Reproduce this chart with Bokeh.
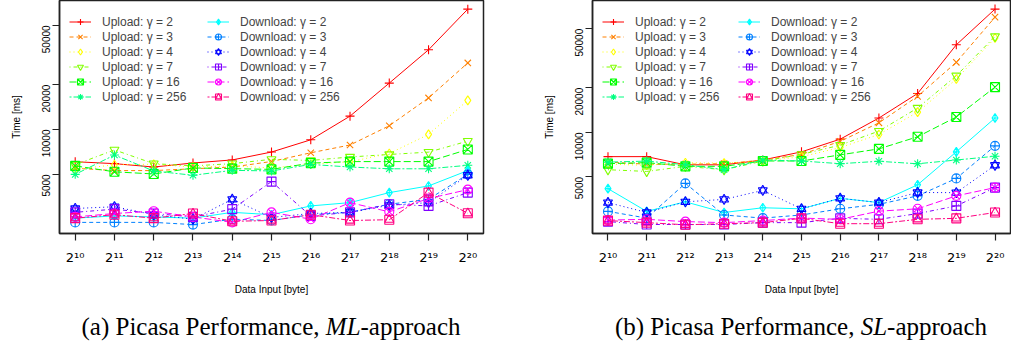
import numpy as np
from bokeh.plotting import figure
from bokeh.models import (Range1d, FixedTicker, NumeralTickFormatter, Legend,
                          LegendItem, Div)
from bokeh.layouts import row, column
from bokeh.embed import file_html
from bokeh.resources import INLINE

# ---------------- data ----------------
exponents = list(range(10, 21))
x_tick_labels = ["2¹⁰", "2¹¹", "2¹²", "2¹³", "2¹⁴", "2¹⁵",
                 "2¹⁶", "2¹⁷", "2¹⁸", "2¹⁹", "2²⁰"]
y_ticks = [5000, 10000, 20000, 50000]
gammas = [2, 3, 4, 7, 16, 256]

# (a) ML-approach, time in ms
up2_ml = [6080, 5900, 5600, 5960, 6250, 7060, 8530, 12300, 20500, 34300, 64300]
up3_ml = [5500, 5300, 5300, 5450, 5600, 6100, 6980, 7870, 10600, 16300, 28000]
up4_ml = [5400, 5800, 5850, 5600, 5700, 5520, 5850, 6080, 6900, 9270, 15700]
up7_ml = [5800, 7300, 5900, 5700, 5900, 6310, 6200, 6540, 6800, 7050, 8360]
up16_ml = [5700, 5200, 5030, 5520, 5460, 5400, 5950, 6090, 6090, 6090, 7350]
up256_ml = [5000, 6740, 5270, 4930, 5320, 5270, 5830, 5600, 5450, 5450, 5750]
dn2_ml = [2540, 2630, 2590, 2540, 2780, 2680, 3070, 3230, 3770, 4180, 5300]
dn3_ml = [2380, 2380, 2380, 2300, 2500, 2450, 2680, 2780, 3150, 3400, 5000]
dn4_ml = [2950, 3030, 2680, 2500, 3400, 2570, 2730, 2780, 3100, 3230, 4930]
dn7_ml = [2780, 2920, 2730, 2590, 2920, 4470, 2630, 2780, 3150, 3070, 3770]
dn16_ml = [2590, 2730, 2830, 2590, 2380, 2780, 2500, 3230, 2800, 3440, 3950]
dn256_ml = [2540, 2680, 2540, 2730, 2420, 2450, 2680, 2450, 2480, 3770, 2740]

# (b) SL-approach, time in ms
up2_sl = [6860, 6860, 6040, 6040, 6510, 7390, 9000, 12500, 18300, 39000, 67900]
up3_sl = [6300, 6100, 6100, 6150, 6500, 7100, 8700, 11600, 17500, 29700, 59900]
up4_sl = [6100, 6000, 6240, 6200, 6400, 6850, 7900, 9680, 13700, 22900, 43300]
up7_sl = [5600, 5450, 5900, 5600, 6400, 7100, 8200, 10200, 14600, 24100, 44400]
up16_sl = [6150, 6250, 5900, 5900, 6410, 6410, 7050, 7740, 9340, 12700, 20200]
up256_sl = [6300, 6400, 6050, 5600, 6510, 6410, 6150, 6380, 6140, 6510, 6900]
dn2_sl = [4170, 2930, 3400, 2880, 3100, 3050, 3590, 3360, 4430, 7390, 12500]
dn3_sl = [2930, 2640, 4530, 2770, 2640, 2770, 3050, 3270, 3730, 4890, 8110]
dn4_sl = [3360, 2880, 3400, 3530, 4060, 3050, 3590, 3360, 3930, 3920, 6000]
dn7_sl = [2500, 2390, 2390, 2390, 2460, 2460, 2630, 2590, 2830, 3190, 4240]
dn16_sl = [2560, 2590, 2500, 2460, 2540, 2640, 2590, 2940, 3050, 3730, 4240]
dn256_sl = [2540, 2460, 2380, 2420, 2460, 2630, 2420, 2420, 2590, 2630, 2880]

upload_ml = [up2_ml, up3_ml, up4_ml, up7_ml, up16_ml, up256_ml]
download_ml = [dn2_ml, dn3_ml, dn4_ml, dn7_ml, dn16_ml, dn256_ml]
upload_sl = [up2_sl, up3_sl, up4_sl, up7_sl, up16_sl, up256_sl]
download_sl = [dn2_sl, dn3_sl, dn4_sl, dn7_sl, dn16_sl, dn256_sl]

# ---------------- styles ----------------
up_colors = ["#FF0000", "#FF8000", "#FFFF00", "#80FF00", "#00FF00", "#00FF80"]
dn_colors = ["#00FFFF", "#0080FF", "#0000FF", "#8000FF", "#FF00FF", "#FF0080"]
dashes = ["solid", "4 3", "1 3", "1 3 4 3", "7 3", "2 2 6 2"]
up_markers = [["cross"], ["x"], ["diamond"], ["inverted_triangle"], ["square_x"], ["asterisk"]]
dn_markers = [["diamond_cross"], ["circle_cross"], ["triangle", "inverted_triangle"],
              ["square_cross"], ["circle_x"], ["square", "triangle"]]

FONT = "Liberation Sans"
FRAME_H = 233
LEG_H = 2 * 7 + 6 * 15


def draw_series(p, ys, color, dash, markers):
    rs = [p.line(exponents, ys, line_color=color, line_dash=dash, line_width=1)]
    for m in markers:
        rs.append(p.scatter(exponents, ys, marker=m, size=9, line_color=color,
                            fill_color=None, line_width=1.1))
    return rs


def make_panel(uploads, downloads, y_lo, y_hi, border_left, frame_w, border_right,
               leg2_x):
    p = figure(frame_width=frame_w, frame_height=FRAME_H,
               min_border_left=border_left, min_border_right=border_right,
               min_border_top=0, min_border_bottom=67,
               x_range=Range1d(9.6, 20.4), y_range=Range1d(y_lo, y_hi),
               y_axis_type="log", output_backend="svg", toolbar_location=None,
               background_fill_color="white", border_fill_color="white")
    p.grid.visible = False
    p.outline_line_color = "#222222"
    p.outline_line_width = 1.5

    for ax in (p.xaxis[0], p.yaxis[0]):
        ax.axis_line_color = "#222222"
        ax.axis_line_width = 1.5
        ax.major_tick_in = 0
        ax.major_tick_out = 7
        ax.major_tick_line_color = "#222222"
        ax.major_tick_line_width = 1.2
        ax.minor_tick_line_color = None
        ax.major_label_text_font = FONT
        ax.axis_label_text_font = FONT
        ax.axis_label_text_font_style = "normal"
        ax.axis_label_text_font_size = "10px"
        ax.axis_label_text_color = "black"
        ax.major_label_text_color = "black"

    p.xaxis.ticker = FixedTicker(ticks=exponents)
    p.xaxis.major_label_overrides = {e: l for e, l in zip(exponents, x_tick_labels)}
    p.xaxis.major_label_text_font = "DejaVu Sans"
    p.xaxis.major_label_text_font_size = "13px"
    p.xaxis.major_label_standoff = 9
    p.xaxis.axis_label = "Data Input [byte]"
    p.xaxis.axis_label_standoff = 16

    p.yaxis.ticker = FixedTicker(ticks=y_ticks)
    p.yaxis.formatter = NumeralTickFormatter(format="0")
    p.yaxis.major_label_orientation = np.pi / 2
    p.yaxis.major_label_text_font_size = "10px"
    p.yaxis.major_label_standoff = 6
    p.yaxis.axis_label = "Time [ms]"
    p.yaxis.axis_label_standoff = 14

    up_items, dn_items = [], []
    for g, ys, c, d, m in zip(gammas, uploads, up_colors, dashes, up_markers):
        up_items.append(LegendItem(label=f"Upload: γ = {g}",
                                   renderers=draw_series(p, ys, c, d, m)))
    for g, ys, c, d, m in zip(gammas, downloads, dn_colors, dashes, dn_markers):
        dn_items.append(LegendItem(label=f"Download: γ = {g}",
                                   renderers=draw_series(p, ys, c, d, m)))

    for items, lx in ((up_items, 3), (dn_items, leg2_x)):
        leg = Legend(items=items, location=(lx, FRAME_H - LEG_H - 7),
                     label_text_font=FONT, label_text_font_size="12px",
                     glyph_width=22, glyph_height=15, label_height=15,
                     label_standoff=11, spacing=0, padding=7, margin=0,
                     background_fill_alpha=0, border_line_alpha=0)
        p.add_layout(leg, "center")
    return p


p1 = make_panel(upload_ml, download_ml, 2004, 73500, 59, 424, 47, 141)
p2 = make_panel(upload_sl, download_sl, 2078, 77600, 62, 418, 1, 139)

cap_style = {"text-align": "center", "font-family": "Liberation Serif",
             "font-size": "25px", "color": "black", "white-space": "nowrap"}
d1 = Div(text="(a) Picasa Performance, <i>ML</i>-approach", width=424, height=38,
         margin=(9, 0, 0, 59), styles=cap_style)
d2 = Div(text="(b) Picasa Performance, <i>SL</i>-approach", width=418, height=38,
         margin=(9, 0, 0, 62), styles=cap_style)

layout = row(column(p1, d1, spacing=0), column(p2, d2, spacing=0), spacing=0)

open("out.html", "w").write(file_html(layout, INLINE))
